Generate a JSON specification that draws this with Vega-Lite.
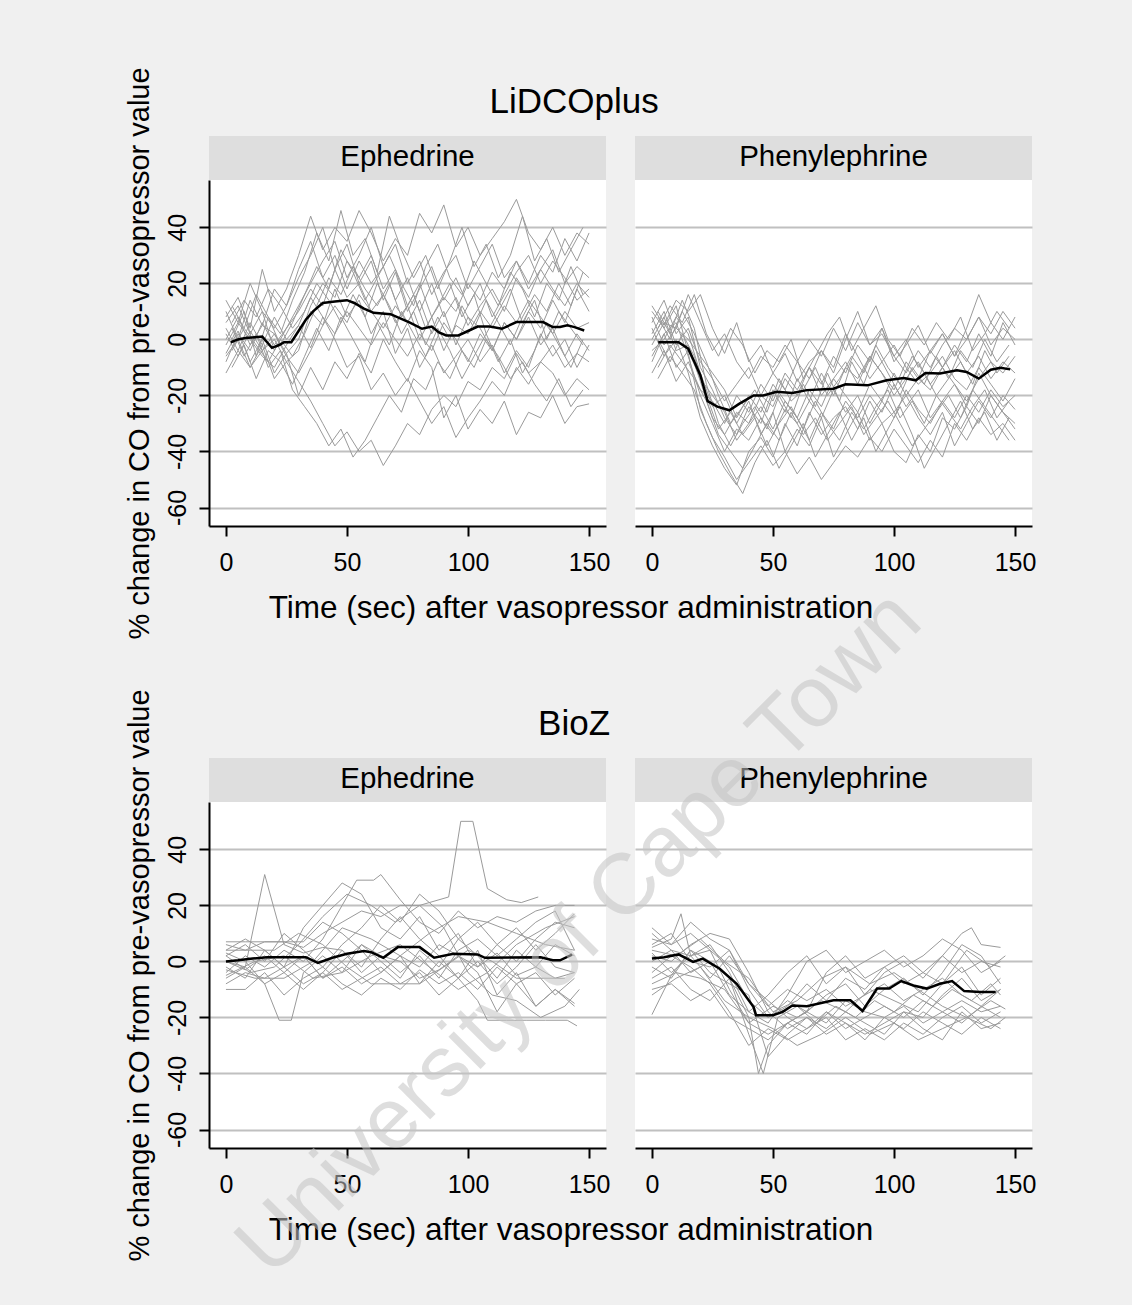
{
"$schema":"https://vega.github.io/schema/vega-lite/v6.json",
"padding":{"left":124,"top":66,"right":96,"bottom":45},
"background":"#f0f0f0",
"config":{"font":"Liberation Sans","view":{"fill":"white","stroke":null},
"axis":{"labelFont":"Liberation Sans","titleFont":"Liberation Sans","labelColor":"black","titleColor":"black","titleFontWeight":"normal","domainColor":"black","tickColor":"black","domainWidth":2,"tickWidth":2,"tickSize":10,"labelFontSize":25,"gridColor":"#c0c0c0","gridWidth":1.8,"labelFlush":false,"labelOverlap":false}},
"bounds":"flush",
"spacing":622,
"vconcat":[
{"bounds":"flush","spacing":29,"hconcat":[
{"width":397,"height":346,"layer":[
{"data":{"values":[{}]},"mark":{"type":"rect","color":"#dedede"},"encoding":{"x":{"datum":-7,"type":"quantitative"},"x2":{"datum":157},"y":{"datum":56.9,"type":"quantitative"},"y2":{"datum":72.6}}},
{"data":{"values":[{}]},"mark":{"type":"text","text":"Ephedrine","fontSize":29.5,"baseline":"middle","align":"center","color":"black"},"encoding":{"x":{"datum":75,"type":"quantitative"},"y":{"datum":65,"type":"quantitative"}}},
{"data":{"values":[{}]},"mark":{"type":"text","text":"LiDCOplus","fontSize":35,"baseline":"middle","align":"center","color":"black"},"encoding":{"x":{"datum":143.8,"type":"quantitative"},"y":{"datum":84.7,"type":"quantitative"}}},
{"data":{"name":"le"},"mark":{"type":"line","color":"#9a9a9a","strokeWidth":1},"encoding":{
"x":{"field":"t","type":"quantitative","scale":{"domain":[-7,157],"nice":false,"zero":false},"axis":{"values":[0,50,100,150],"grid":false,"labelPadding":14,"title":"Time (sec) after vasopressor administration","titleX":361.5,"titleFontSize":31.5,"titlePadding":17}},
"y":{"field":"v","type":"quantitative","scale":{"domain":[-66.6,56.9],"nice":false,"zero":false},"axis":{"values":[-60,-40,-20,0,20,40],"grid":true,"labelAngle":270,"labelAlign":"center","labelBaseline":"bottom","labelPadding":9,"labelExpr":"datum.value < 0 ? '-' + abs(datum.value) : '' + datum.value","title":"% change in CO from pre-vasopressor value","titleFontSize":29,"titlePadding":11}},
"detail":{"field":"p"}}},
{"data":{"name":"lem"},"mark":{"type":"line","color":"black","strokeWidth":2.5},"encoding":{"x":{"field":"t","type":"quantitative"},"y":{"field":"v","type":"quantitative"}}}
]},
{"width":397,"height":346,"layer":[
{"data":{"values":[{}]},"mark":{"type":"rect","color":"#dedede"},"encoding":{"x":{"datum":-7,"type":"quantitative"},"x2":{"datum":157},"y":{"datum":56.9,"type":"quantitative"},"y2":{"datum":72.6}}},
{"data":{"values":[{}]},"mark":{"type":"text","text":"Phenylephrine","fontSize":29.5,"baseline":"middle","align":"center","color":"black"},"encoding":{"x":{"datum":75,"type":"quantitative"},"y":{"datum":65,"type":"quantitative"}}},
{"data":{"name":"lp"},"mark":{"type":"line","color":"#9a9a9a","strokeWidth":1},"encoding":{
"x":{"field":"t","type":"quantitative","scale":{"domain":[-7,157],"nice":false,"zero":false},"axis":{"values":[0,50,100,150],"grid":false,"labelPadding":14,"title":null}},
"y":{"field":"v","type":"quantitative","scale":{"domain":[-66.6,56.9],"nice":false,"zero":false},"axis":{"values":[-60,-40,-20,0,20,40],"grid":true,"domain":false,"ticks":false,"labels":false,"title":null}},
"detail":{"field":"p"}}},
{"data":{"name":"lpm"},"mark":{"type":"line","color":"black","strokeWidth":2.5},"encoding":{"x":{"field":"t","type":"quantitative"},"y":{"field":"v","type":"quantitative"}}}
]}
]},
{"bounds":"flush","spacing":29,"hconcat":[
{"width":397,"height":346,"layer":[
{"data":{"values":[{}]},"mark":{"type":"rect","color":"#dedede"},"encoding":{"x":{"datum":-7,"type":"quantitative"},"x2":{"datum":157},"y":{"datum":56.9,"type":"quantitative"},"y2":{"datum":72.6}}},
{"data":{"values":[{}]},"mark":{"type":"text","text":"Ephedrine","fontSize":29.5,"baseline":"middle","align":"center","color":"black"},"encoding":{"x":{"datum":75,"type":"quantitative"},"y":{"datum":65,"type":"quantitative"}}},
{"data":{"values":[{}]},"mark":{"type":"text","text":"BioZ","fontSize":35,"baseline":"middle","align":"center","color":"black"},"encoding":{"x":{"datum":143.8,"type":"quantitative"},"y":{"datum":84.7,"type":"quantitative"}}},
{"data":{"name":"be"},"mark":{"type":"line","color":"#9a9a9a","strokeWidth":1},"encoding":{
"x":{"field":"t","type":"quantitative","scale":{"domain":[-7,157],"nice":false,"zero":false},"axis":{"values":[0,50,100,150],"grid":false,"labelPadding":14,"title":"Time (sec) after vasopressor administration","titleX":361.5,"titleFontSize":31.5,"titlePadding":17}},
"y":{"field":"v","type":"quantitative","scale":{"domain":[-66.6,56.9],"nice":false,"zero":false},"axis":{"values":[-60,-40,-20,0,20,40],"grid":true,"labelAngle":270,"labelAlign":"center","labelBaseline":"bottom","labelPadding":9,"labelExpr":"datum.value < 0 ? '-' + abs(datum.value) : '' + datum.value","title":"% change in CO from pre-vasopressor value","titleFontSize":29,"titlePadding":11}},
"detail":{"field":"p"}}},
{"data":{"name":"bem"},"mark":{"type":"line","color":"black","strokeWidth":2.5},"encoding":{"x":{"field":"t","type":"quantitative"},"y":{"field":"v","type":"quantitative"}}}
]},
{"width":397,"height":346,"layer":[
{"data":{"values":[{}]},"mark":{"type":"rect","color":"#dedede"},"encoding":{"x":{"datum":-7,"type":"quantitative"},"x2":{"datum":157},"y":{"datum":56.9,"type":"quantitative"},"y2":{"datum":72.6}}},
{"data":{"values":[{}]},"mark":{"type":"text","text":"Phenylephrine","fontSize":29.5,"baseline":"middle","align":"center","color":"black"},"encoding":{"x":{"datum":75,"type":"quantitative"},"y":{"datum":65,"type":"quantitative"}}},
{"data":{"name":"bp"},"mark":{"type":"line","color":"#9a9a9a","strokeWidth":1},"encoding":{
"x":{"field":"t","type":"quantitative","scale":{"domain":[-7,157],"nice":false,"zero":false},"axis":{"values":[0,50,100,150],"grid":false,"labelPadding":14,"title":null}},
"y":{"field":"v","type":"quantitative","scale":{"domain":[-66.6,56.9],"nice":false,"zero":false},"axis":{"values":[-60,-40,-20,0,20,40],"grid":true,"domain":false,"ticks":false,"labels":false,"title":null}},
"detail":{"field":"p"}}},
{"data":{"name":"bpm"},"mark":{"type":"line","color":"black","strokeWidth":2.5},"encoding":{"x":{"field":"t","type":"quantitative"},"y":{"field":"v","type":"quantitative"}}},
{"data":{"values":[{}]},"mark":{"type":"text","text":"University of Cape Town","fontSize":86,"angle":-45,"baseline":"middle","align":"center","color":"#c4c4c4","opacity":0.55},"encoding":{"x":{"datum":-30,"type":"quantitative"},"y":{"datum":10,"type":"quantitative"}}}
]}
]}
],
"datasets":{
"le":[
{"p":1,"t":0,"v":8},{"p":1,"t":5,"v":15},{"p":1,"t":10,"v":4},{"p":1,"t":15,"v":25},{"p":1,"t":20,"v":10},{"p":1,"t":25,"v":18},{"p":1,"t":30,"v":30},{"p":1,"t":35,"v":44},{"p":1,"t":40,"v":32},{"p":1,"t":45,"v":40},{"p":1,"t":50,"v":35},{"p":1,"t":55,"v":46},{"p":1,"t":60,"v":38},{"p":1,"t":65,"v":28},{"p":1,"t":70,"v":36},{"p":1,"t":75,"v":30},{"p":1,"t":80,"v":45},{"p":1,"t":85,"v":38},{"p":1,"t":90,"v":48},{"p":1,"t":95,"v":33},{"p":1,"t":100,"v":40},{"p":1,"t":105,"v":30},{"p":1,"t":110,"v":36},{"p":1,"t":115,"v":42},{"p":1,"t":120,"v":50},{"p":1,"t":125,"v":38},{"p":1,"t":130,"v":32},{"p":1,"t":135,"v":40},{"p":1,"t":140,"v":30},{"p":1,"t":145,"v":38},{"p":1,"t":150,"v":34},
{"p":2,"t":0,"v":2},{"p":2,"t":5,"v":-6},{"p":2,"t":10,"v":3},{"p":2,"t":15,"v":-4},{"p":2,"t":20,"v":0},{"p":2,"t":25,"v":-8},{"p":2,"t":30,"v":-15},{"p":2,"t":35,"v":-22},{"p":2,"t":40,"v":-30},{"p":2,"t":45,"v":-38},{"p":2,"t":50,"v":-33},{"p":2,"t":55,"v":-40},{"p":2,"t":60,"v":-36},{"p":2,"t":65,"v":-45},{"p":2,"t":70,"v":-38},{"p":2,"t":75,"v":-30},{"p":2,"t":80,"v":-34},{"p":2,"t":85,"v":-25},{"p":2,"t":90,"v":-20},{"p":2,"t":95,"v":-24},{"p":2,"t":100,"v":-15},{"p":2,"t":105,"v":-18},{"p":2,"t":110,"v":-10},{"p":2,"t":115,"v":-14},{"p":2,"t":120,"v":-5},{"p":2,"t":125,"v":-12},{"p":2,"t":130,"v":-8},{"p":2,"t":135,"v":-2},{"p":2,"t":140,"v":-10},{"p":2,"t":145,"v":-5},{"p":2,"t":150,"v":-8},
{"p":3,"t":0,"v":-5},{"p":3,"t":5,"v":3},{"p":3,"t":10,"v":-8},{"p":3,"t":15,"v":0},{"p":3,"t":20,"v":-12},{"p":3,"t":25,"v":-5},{"p":3,"t":30,"v":-20},{"p":3,"t":35,"v":-10},{"p":3,"t":40,"v":-18},{"p":3,"t":45,"v":-8},{"p":3,"t":50,"v":-14},{"p":3,"t":55,"v":-5},{"p":3,"t":60,"v":-12},{"p":3,"t":65,"v":0},{"p":3,"t":70,"v":-8},{"p":3,"t":75,"v":-15},{"p":3,"t":80,"v":-4},{"p":3,"t":85,"v":-10},{"p":3,"t":90,"v":-28},{"p":3,"t":95,"v":-20},{"p":3,"t":100,"v":-32},{"p":3,"t":105,"v":-25},{"p":3,"t":110,"v":-30},{"p":3,"t":115,"v":-22},{"p":3,"t":120,"v":-34},{"p":3,"t":125,"v":-26},{"p":3,"t":130,"v":-28},{"p":3,"t":135,"v":-20},{"p":3,"t":140,"v":-30},{"p":3,"t":145,"v":-24},{"p":3,"t":150,"v":-23},
{"p":4,"t":0,"v":10},{"p":4,"t":5,"v":0},{"p":4,"t":10,"v":14},{"p":4,"t":15,"v":5},{"p":4,"t":20,"v":18},{"p":4,"t":25,"v":12},{"p":4,"t":30,"v":25},{"p":4,"t":35,"v":35},{"p":4,"t":40,"v":22},{"p":4,"t":45,"v":30},{"p":4,"t":50,"v":18},{"p":4,"t":55,"v":28},{"p":4,"t":60,"v":20},{"p":4,"t":65,"v":26},{"p":4,"t":70,"v":14},{"p":4,"t":75,"v":22},{"p":4,"t":80,"v":10},{"p":4,"t":85,"v":20},{"p":4,"t":90,"v":8},{"p":4,"t":95,"v":15},{"p":4,"t":100,"v":5},{"p":4,"t":105,"v":12},{"p":4,"t":110,"v":18},{"p":4,"t":115,"v":10},{"p":4,"t":120,"v":22},{"p":4,"t":125,"v":15},{"p":4,"t":130,"v":25},{"p":4,"t":135,"v":18},{"p":4,"t":140,"v":12},{"p":4,"t":145,"v":20},{"p":4,"t":150,"v":15},
{"p":5,"t":0,"v":-8},{"p":5,"t":5,"v":2},{"p":5,"t":10,"v":-4},{"p":5,"t":15,"v":6},{"p":5,"t":20,"v":-2},{"p":5,"t":25,"v":4},{"p":5,"t":30,"v":10},{"p":5,"t":35,"v":18},{"p":5,"t":40,"v":12},{"p":5,"t":45,"v":25},{"p":5,"t":50,"v":15},{"p":5,"t":55,"v":20},{"p":5,"t":60,"v":10},{"p":5,"t":65,"v":16},{"p":5,"t":70,"v":6},{"p":5,"t":75,"v":12},{"p":5,"t":80,"v":0},{"p":5,"t":85,"v":8},{"p":5,"t":90,"v":-4},{"p":5,"t":95,"v":5},{"p":5,"t":100,"v":2},{"p":5,"t":105,"v":10},{"p":5,"t":110,"v":4},{"p":5,"t":115,"v":12},{"p":5,"t":120,"v":6},{"p":5,"t":125,"v":14},{"p":5,"t":130,"v":8},{"p":5,"t":135,"v":2},{"p":5,"t":140,"v":10},{"p":5,"t":145,"v":4},{"p":5,"t":150,"v":6},
{"p":6,"t":0,"v":0},{"p":6,"t":5,"v":8},{"p":6,"t":10,"v":-2},{"p":6,"t":15,"v":5},{"p":6,"t":20,"v":2},{"p":6,"t":25,"v":-5},{"p":6,"t":30,"v":0},{"p":6,"t":35,"v":12},{"p":6,"t":40,"v":20},{"p":6,"t":45,"v":15},{"p":6,"t":50,"v":28},{"p":6,"t":55,"v":22},{"p":6,"t":60,"v":30},{"p":6,"t":65,"v":18},{"p":6,"t":70,"v":25},{"p":6,"t":75,"v":12},{"p":6,"t":80,"v":20},{"p":6,"t":85,"v":8},{"p":6,"t":90,"v":15},{"p":6,"t":95,"v":10},{"p":6,"t":100,"v":20},{"p":6,"t":105,"v":14},{"p":6,"t":110,"v":24},{"p":6,"t":115,"v":18},{"p":6,"t":120,"v":28},{"p":6,"t":125,"v":20},{"p":6,"t":130,"v":30},{"p":6,"t":135,"v":24},{"p":6,"t":140,"v":36},{"p":6,"t":145,"v":28},{"p":6,"t":150,"v":38},
{"p":7,"t":0,"v":4},{"p":7,"t":5,"v":-4},{"p":7,"t":10,"v":6},{"p":7,"t":15,"v":-2},{"p":7,"t":20,"v":8},{"p":7,"t":25,"v":0},{"p":7,"t":30,"v":5},{"p":7,"t":35,"v":-3},{"p":7,"t":40,"v":8},{"p":7,"t":45,"v":2},{"p":7,"t":50,"v":10},{"p":7,"t":55,"v":4},{"p":7,"t":60,"v":-2},{"p":7,"t":65,"v":6},{"p":7,"t":70,"v":0},{"p":7,"t":75,"v":-6},{"p":7,"t":80,"v":2},{"p":7,"t":85,"v":-4},{"p":7,"t":90,"v":6},{"p":7,"t":95,"v":0},{"p":7,"t":100,"v":-8},{"p":7,"t":105,"v":2},{"p":7,"t":110,"v":-4},{"p":7,"t":115,"v":6},{"p":7,"t":120,"v":0},{"p":7,"t":125,"v":8},{"p":7,"t":130,"v":-2},{"p":7,"t":135,"v":4},{"p":7,"t":140,"v":-6},{"p":7,"t":145,"v":2},{"p":7,"t":150,"v":-4},
{"p":8,"t":0,"v":-12},{"p":8,"t":5,"v":-4},{"p":8,"t":10,"v":-10},{"p":8,"t":15,"v":-2},{"p":8,"t":20,"v":-14},{"p":8,"t":25,"v":-8},{"p":8,"t":30,"v":-4},{"p":8,"t":35,"v":10},{"p":8,"t":40,"v":5},{"p":8,"t":45,"v":18},{"p":8,"t":50,"v":8},{"p":8,"t":55,"v":14},{"p":8,"t":60,"v":2},{"p":8,"t":65,"v":10},{"p":8,"t":70,"v":-5},{"p":8,"t":75,"v":4},{"p":8,"t":80,"v":-10},{"p":8,"t":85,"v":-2},{"p":8,"t":90,"v":-12},{"p":8,"t":95,"v":-6},{"p":8,"t":100,"v":0},{"p":8,"t":105,"v":-8},{"p":8,"t":110,"v":-2},{"p":8,"t":115,"v":-12},{"p":8,"t":120,"v":-4},{"p":8,"t":125,"v":-10},{"p":8,"t":130,"v":2},{"p":8,"t":135,"v":-6},{"p":8,"t":140,"v":0},{"p":8,"t":145,"v":-10},{"p":8,"t":150,"v":-2},
{"p":9,"t":0,"v":14},{"p":9,"t":5,"v":6},{"p":9,"t":10,"v":20},{"p":9,"t":15,"v":10},{"p":9,"t":20,"v":4},{"p":9,"t":25,"v":12},{"p":9,"t":30,"v":22},{"p":9,"t":35,"v":30},{"p":9,"t":40,"v":40},{"p":9,"t":45,"v":25},{"p":9,"t":50,"v":34},{"p":9,"t":55,"v":20},{"p":9,"t":60,"v":28},{"p":9,"t":65,"v":14},{"p":9,"t":70,"v":24},{"p":9,"t":75,"v":10},{"p":9,"t":80,"v":18},{"p":9,"t":85,"v":26},{"p":9,"t":90,"v":14},{"p":9,"t":95,"v":22},{"p":9,"t":100,"v":12},{"p":9,"t":105,"v":20},{"p":9,"t":110,"v":8},{"p":9,"t":115,"v":16},{"p":9,"t":120,"v":24},{"p":9,"t":125,"v":30},{"p":9,"t":130,"v":20},{"p":9,"t":135,"v":28},{"p":9,"t":140,"v":22},{"p":9,"t":145,"v":14},{"p":9,"t":150,"v":18},
{"p":10,"t":0,"v":-2},{"p":10,"t":5,"v":6},{"p":10,"t":10,"v":0},{"p":10,"t":15,"v":-6},{"p":10,"t":20,"v":-10},{"p":10,"t":25,"v":-2},{"p":10,"t":30,"v":5},{"p":10,"t":35,"v":15},{"p":10,"t":40,"v":8},{"p":10,"t":45,"v":0},{"p":10,"t":50,"v":-10},{"p":10,"t":55,"v":-6},{"p":10,"t":60,"v":-18},{"p":10,"t":65,"v":-12},{"p":10,"t":70,"v":-20},{"p":10,"t":75,"v":-14},{"p":10,"t":80,"v":-22},{"p":10,"t":85,"v":-30},{"p":10,"t":90,"v":-24},{"p":10,"t":95,"v":-35},{"p":10,"t":100,"v":-28},{"p":10,"t":105,"v":-22},{"p":10,"t":110,"v":-15},{"p":10,"t":115,"v":-20},{"p":10,"t":120,"v":-10},{"p":10,"t":125,"v":-16},{"p":10,"t":130,"v":-8},{"p":10,"t":135,"v":-12},{"p":10,"t":140,"v":-20},{"p":10,"t":145,"v":-14},{"p":10,"t":150,"v":-18},
{"p":11,"t":0,"v":6},{"p":11,"t":5,"v":12},{"p":11,"t":10,"v":2},{"p":11,"t":15,"v":10},{"p":11,"t":20,"v":-4},{"p":11,"t":25,"v":4},{"p":11,"t":30,"v":12},{"p":11,"t":35,"v":20},{"p":11,"t":40,"v":28},{"p":11,"t":45,"v":35},{"p":11,"t":50,"v":22},{"p":11,"t":55,"v":30},{"p":11,"t":60,"v":40},{"p":11,"t":65,"v":26},{"p":11,"t":70,"v":34},{"p":11,"t":75,"v":20},{"p":11,"t":80,"v":28},{"p":11,"t":85,"v":16},{"p":11,"t":90,"v":24},{"p":11,"t":95,"v":30},{"p":11,"t":100,"v":18},{"p":11,"t":105,"v":26},{"p":11,"t":110,"v":34},{"p":11,"t":115,"v":22},{"p":11,"t":120,"v":28},{"p":11,"t":125,"v":18},{"p":11,"t":130,"v":25},{"p":11,"t":135,"v":32},{"p":11,"t":140,"v":20},{"p":11,"t":145,"v":26},{"p":11,"t":150,"v":22},
{"p":12,"t":0,"v":-6},{"p":12,"t":5,"v":0},{"p":12,"t":10,"v":-10},{"p":12,"t":15,"v":-4},{"p":12,"t":20,"v":2},{"p":12,"t":25,"v":-6},{"p":12,"t":30,"v":-12},{"p":12,"t":35,"v":-4},{"p":12,"t":40,"v":5},{"p":12,"t":45,"v":12},{"p":12,"t":50,"v":6},{"p":12,"t":55,"v":16},{"p":12,"t":60,"v":10},{"p":12,"t":65,"v":4},{"p":12,"t":70,"v":12},{"p":12,"t":75,"v":6},{"p":12,"t":80,"v":14},{"p":12,"t":85,"v":2},{"p":12,"t":90,"v":10},{"p":12,"t":95,"v":-2},{"p":12,"t":100,"v":8},{"p":12,"t":105,"v":4},{"p":12,"t":110,"v":-4},{"p":12,"t":115,"v":6},{"p":12,"t":120,"v":0},{"p":12,"t":125,"v":10},{"p":12,"t":130,"v":4},{"p":12,"t":135,"v":14},{"p":12,"t":140,"v":6},{"p":12,"t":145,"v":18},{"p":12,"t":150,"v":10},
{"p":13,"t":2.5,"v":0},{"p":13,"t":7.5,"v":10},{"p":13,"t":12.5,"v":-6},{"p":13,"t":17.5,"v":8},{"p":13,"t":22.5,"v":-2},{"p":13,"t":27.5,"v":6},{"p":13,"t":32.5,"v":16},{"p":13,"t":37.5,"v":26},{"p":13,"t":42.5,"v":18},{"p":13,"t":47.5,"v":32},{"p":13,"t":52.5,"v":24},{"p":13,"t":57.5,"v":14},{"p":13,"t":62.5,"v":22},{"p":13,"t":67.5,"v":30},{"p":13,"t":72.5,"v":20},{"p":13,"t":77.5,"v":12},{"p":13,"t":82.5,"v":26},{"p":13,"t":87.5,"v":34},{"p":13,"t":92.5,"v":22},{"p":13,"t":97.5,"v":16},{"p":13,"t":102.5,"v":28},{"p":13,"t":107.5,"v":20},{"p":13,"t":112.5,"v":12},{"p":13,"t":117.5,"v":24},{"p":13,"t":122.5,"v":18},{"p":13,"t":127.5,"v":8},{"p":13,"t":132.5,"v":20},{"p":13,"t":137.5,"v":14},{"p":13,"t":142.5,"v":26},{"p":13,"t":147.5,"v":16},
{"p":14,"t":2.5,"v":-10},{"p":14,"t":7.5,"v":-2},{"p":14,"t":12.5,"v":-14},{"p":14,"t":17.5,"v":-4},{"p":14,"t":22.5,"v":-8},{"p":14,"t":27.5,"v":-16},{"p":14,"t":32.5,"v":-6},{"p":14,"t":37.5,"v":4},{"p":14,"t":42.5,"v":-4},{"p":14,"t":47.5,"v":8},{"p":14,"t":52.5,"v":0},{"p":14,"t":57.5,"v":-8},{"p":14,"t":62.5,"v":6},{"p":14,"t":67.5,"v":-2},{"p":14,"t":72.5,"v":10},{"p":14,"t":77.5,"v":2},{"p":14,"t":82.5,"v":-6},{"p":14,"t":87.5,"v":4},{"p":14,"t":92.5,"v":-4},{"p":14,"t":97.5,"v":-14},{"p":14,"t":102.5,"v":-6},{"p":14,"t":107.5,"v":2},{"p":14,"t":112.5,"v":-8},{"p":14,"t":117.5,"v":0},{"p":14,"t":122.5,"v":-12},{"p":14,"t":127.5,"v":-4},{"p":14,"t":132.5,"v":6},{"p":14,"t":137.5,"v":-2},{"p":14,"t":142.5,"v":-10},{"p":14,"t":147.5,"v":0},
{"p":15,"t":2.5,"v":12},{"p":15,"t":7.5,"v":4},{"p":15,"t":12.5,"v":16},{"p":15,"t":17.5,"v":8},{"p":15,"t":22.5,"v":2},{"p":15,"t":27.5,"v":14},{"p":15,"t":32.5,"v":24},{"p":15,"t":37.5,"v":38},{"p":15,"t":42.5,"v":28},{"p":15,"t":47.5,"v":46},{"p":15,"t":52.5,"v":30},{"p":15,"t":57.5,"v":36},{"p":15,"t":62.5,"v":24},{"p":15,"t":67.5,"v":44},{"p":15,"t":72.5,"v":32},{"p":15,"t":77.5,"v":22},{"p":15,"t":82.5,"v":30},{"p":15,"t":87.5,"v":18},{"p":15,"t":92.5,"v":28},{"p":15,"t":97.5,"v":40},{"p":15,"t":102.5,"v":26},{"p":15,"t":107.5,"v":34},{"p":15,"t":112.5,"v":22},{"p":15,"t":117.5,"v":30},{"p":15,"t":122.5,"v":44},{"p":15,"t":127.5,"v":28},{"p":15,"t":132.5,"v":36},{"p":15,"t":137.5,"v":24},{"p":15,"t":142.5,"v":32},{"p":15,"t":147.5,"v":40},
{"p":16,"t":2.5,"v":4},{"p":16,"t":7.5,"v":-6},{"p":16,"t":12.5,"v":2},{"p":16,"t":17.5,"v":-10},{"p":16,"t":22.5,"v":-4},{"p":16,"t":27.5,"v":-18},{"p":16,"t":32.5,"v":-24},{"p":16,"t":37.5,"v":-30},{"p":16,"t":42.5,"v":-38},{"p":16,"t":47.5,"v":-32},{"p":16,"t":52.5,"v":-42},{"p":16,"t":57.5,"v":-36},{"p":16,"t":62.5,"v":-28},{"p":16,"t":67.5,"v":-20},{"p":16,"t":72.5,"v":-26},{"p":16,"t":77.5,"v":-14},{"p":16,"t":82.5,"v":-18},{"p":16,"t":87.5,"v":-8},{"p":16,"t":92.5,"v":-14},{"p":16,"t":97.5,"v":-4},{"p":16,"t":102.5,"v":-10},{"p":16,"t":107.5,"v":0},{"p":16,"t":112.5,"v":-6},{"p":16,"t":117.5,"v":-14},{"p":16,"t":122.5,"v":-8},{"p":16,"t":127.5,"v":-16},{"p":16,"t":132.5,"v":-22},{"p":16,"t":137.5,"v":-14},{"p":16,"t":142.5,"v":-24},{"p":16,"t":147.5,"v":-18},
{"p":17,"t":2.5,"v":6},{"p":17,"t":7.5,"v":14},{"p":17,"t":12.5,"v":8},{"p":17,"t":17.5,"v":18},{"p":17,"t":22.5,"v":12},{"p":17,"t":27.5,"v":4},{"p":17,"t":32.5,"v":10},{"p":17,"t":37.5,"v":20},{"p":17,"t":42.5,"v":14},{"p":17,"t":47.5,"v":6},{"p":17,"t":52.5,"v":16},{"p":17,"t":57.5,"v":8},{"p":17,"t":62.5,"v":20},{"p":17,"t":67.5,"v":12},{"p":17,"t":72.5,"v":2},{"p":17,"t":77.5,"v":10},{"p":17,"t":82.5,"v":-2},{"p":17,"t":87.5,"v":8},{"p":17,"t":92.5,"v":0},{"p":17,"t":97.5,"v":12},{"p":17,"t":102.5,"v":4},{"p":17,"t":107.5,"v":14},{"p":17,"t":112.5,"v":6},{"p":17,"t":117.5,"v":-2},{"p":17,"t":122.5,"v":8},{"p":17,"t":127.5,"v":16},{"p":17,"t":132.5,"v":10},{"p":17,"t":137.5,"v":20},{"p":17,"t":142.5,"v":12},{"p":17,"t":147.5,"v":24},
{"p":18,"t":2.5,"v":-4},{"p":18,"t":7.5,"v":4},{"p":18,"t":12.5,"v":-2},{"p":18,"t":17.5,"v":-8},{"p":18,"t":22.5,"v":0},{"p":18,"t":27.5,"v":-6},{"p":18,"t":32.5,"v":2},{"p":18,"t":37.5,"v":12},{"p":18,"t":42.5,"v":22},{"p":18,"t":47.5,"v":16},{"p":18,"t":52.5,"v":26},{"p":18,"t":57.5,"v":18},{"p":18,"t":62.5,"v":12},{"p":18,"t":67.5,"v":20},{"p":18,"t":72.5,"v":8},{"p":18,"t":77.5,"v":16},{"p":18,"t":82.5,"v":4},{"p":18,"t":87.5,"v":12},{"p":18,"t":92.5,"v":20},{"p":18,"t":97.5,"v":8},{"p":18,"t":102.5,"v":16},{"p":18,"t":107.5,"v":2},{"p":18,"t":112.5,"v":10},{"p":18,"t":117.5,"v":18},{"p":18,"t":122.5,"v":6},{"p":18,"t":127.5,"v":14},{"p":18,"t":132.5,"v":0},{"p":18,"t":137.5,"v":10},{"p":18,"t":142.5,"v":4},{"p":18,"t":147.5,"v":-2}
],
"lem":[{"t":2,"v":-1},{"t":5,"v":0},{"t":8,"v":0.5},{"t":12,"v":0.8},{"t":15,"v":1},{"t":17,"v":-1},{"t":19,"v":-3},{"t":22,"v":-2},{"t":24,"v":-1},{"t":27,"v":-1},{"t":30,"v":3},{"t":33,"v":7},{"t":36,"v":10},{"t":40,"v":13},{"t":45,"v":13.5},{"t":50,"v":14},{"t":53,"v":13},{"t":57,"v":11},{"t":61,"v":9.5},{"t":68,"v":9},{"t":72,"v":7.5},{"t":76,"v":6},{"t":81,"v":3.8},{"t":85,"v":4.6},{"t":88,"v":2.5},{"t":91,"v":1.4},{"t":96,"v":1.4},{"t":100,"v":3},{"t":104,"v":4.6},{"t":109,"v":4.6},{"t":114,"v":3.8},{"t":120,"v":6.2},{"t":131,"v":6.2},{"t":135,"v":4.4},{"t":138,"v":4.4},{"t":141,"v":5},{"t":144,"v":4.4},{"t":148,"v":3.2}],
"lp":[
{"p":1,"t":0,"v":10},{"p":1,"t":5,"v":4},{"p":1,"t":10,"v":12},{"p":1,"t":15,"v":-5},{"p":1,"t":20,"v":-25},{"p":1,"t":25,"v":-35},{"p":1,"t":30,"v":-42},{"p":1,"t":35,"v":-50},{"p":1,"t":40,"v":-44},{"p":1,"t":45,"v":-38},{"p":1,"t":50,"v":-45},{"p":1,"t":55,"v":-40},{"p":1,"t":60,"v":-48},{"p":1,"t":65,"v":-42},{"p":1,"t":70,"v":-50},{"p":1,"t":75,"v":-44},{"p":1,"t":80,"v":-38},{"p":1,"t":85,"v":-42},{"p":1,"t":90,"v":-35},{"p":1,"t":95,"v":-40},{"p":1,"t":100,"v":-32},{"p":1,"t":105,"v":-38},{"p":1,"t":110,"v":-44},{"p":1,"t":115,"v":-36},{"p":1,"t":120,"v":-42},{"p":1,"t":125,"v":-30},{"p":1,"t":130,"v":-36},{"p":1,"t":135,"v":-28},{"p":1,"t":140,"v":-34},{"p":1,"t":145,"v":-30},{"p":1,"t":150,"v":-36},
{"p":2,"t":0,"v":0},{"p":2,"t":5,"v":8},{"p":2,"t":10,"v":-4},{"p":2,"t":15,"v":-2},{"p":2,"t":20,"v":-15},{"p":2,"t":25,"v":-28},{"p":2,"t":30,"v":-34},{"p":2,"t":35,"v":-26},{"p":2,"t":40,"v":-30},{"p":2,"t":45,"v":-20},{"p":2,"t":50,"v":-24},{"p":2,"t":55,"v":-14},{"p":2,"t":60,"v":-20},{"p":2,"t":65,"v":-10},{"p":2,"t":70,"v":-16},{"p":2,"t":75,"v":-6},{"p":2,"t":80,"v":-12},{"p":2,"t":85,"v":-2},{"p":2,"t":90,"v":-8},{"p":2,"t":95,"v":4},{"p":2,"t":100,"v":-6},{"p":2,"t":105,"v":0},{"p":2,"t":110,"v":-10},{"p":2,"t":115,"v":-4},{"p":2,"t":120,"v":2},{"p":2,"t":125,"v":-6},{"p":2,"t":130,"v":0},{"p":2,"t":135,"v":8},{"p":2,"t":140,"v":-2},{"p":2,"t":145,"v":4},{"p":2,"t":150,"v":0},
{"p":3,"t":0,"v":-8},{"p":3,"t":5,"v":2},{"p":3,"t":10,"v":6},{"p":3,"t":15,"v":-6},{"p":3,"t":20,"v":-20},{"p":3,"t":25,"v":-30},{"p":3,"t":30,"v":-40},{"p":3,"t":35,"v":-32},{"p":3,"t":40,"v":-36},{"p":3,"t":45,"v":-28},{"p":3,"t":50,"v":-34},{"p":3,"t":55,"v":-25},{"p":3,"t":60,"v":-30},{"p":3,"t":65,"v":-22},{"p":3,"t":70,"v":-28},{"p":3,"t":75,"v":-18},{"p":3,"t":80,"v":-26},{"p":3,"t":85,"v":-20},{"p":3,"t":90,"v":-30},{"p":3,"t":95,"v":-22},{"p":3,"t":100,"v":-28},{"p":3,"t":105,"v":-18},{"p":3,"t":110,"v":-25},{"p":3,"t":115,"v":-30},{"p":3,"t":120,"v":-22},{"p":3,"t":125,"v":-28},{"p":3,"t":130,"v":-20},{"p":3,"t":135,"v":-26},{"p":3,"t":140,"v":-18},{"p":3,"t":145,"v":-24},{"p":3,"t":150,"v":-20},
{"p":4,"t":0,"v":12},{"p":4,"t":5,"v":5},{"p":4,"t":10,"v":14},{"p":4,"t":15,"v":10},{"p":4,"t":20,"v":16},{"p":4,"t":25,"v":4},{"p":4,"t":30,"v":-5},{"p":4,"t":35,"v":6},{"p":4,"t":40,"v":-8},{"p":4,"t":45,"v":-2},{"p":4,"t":50,"v":-12},{"p":4,"t":55,"v":-5},{"p":4,"t":60,"v":-15},{"p":4,"t":65,"v":-8},{"p":4,"t":70,"v":-4},{"p":4,"t":75,"v":-12},{"p":4,"t":80,"v":0},{"p":4,"t":85,"v":10},{"p":4,"t":90,"v":-2},{"p":4,"t":95,"v":4},{"p":4,"t":100,"v":-8},{"p":4,"t":105,"v":-2},{"p":4,"t":110,"v":5},{"p":4,"t":115,"v":-5},{"p":4,"t":120,"v":2},{"p":4,"t":125,"v":-6},{"p":4,"t":130,"v":4},{"p":4,"t":135,"v":16},{"p":4,"t":140,"v":6},{"p":4,"t":145,"v":0},{"p":4,"t":150,"v":8},
{"p":5,"t":0,"v":4},{"p":5,"t":5,"v":-6},{"p":5,"t":10,"v":0},{"p":5,"t":15,"v":-12},{"p":5,"t":20,"v":-28},{"p":5,"t":25,"v":-38},{"p":5,"t":30,"v":-46},{"p":5,"t":35,"v":-52},{"p":5,"t":40,"v":-40},{"p":5,"t":45,"v":-35},{"p":5,"t":50,"v":-42},{"p":5,"t":55,"v":-30},{"p":5,"t":60,"v":-38},{"p":5,"t":65,"v":-26},{"p":5,"t":70,"v":-34},{"p":5,"t":75,"v":-28},{"p":5,"t":80,"v":-24},{"p":5,"t":85,"v":-32},{"p":5,"t":90,"v":-22},{"p":5,"t":95,"v":-30},{"p":5,"t":100,"v":-26},{"p":5,"t":105,"v":-20},{"p":5,"t":110,"v":-28},{"p":5,"t":115,"v":-34},{"p":5,"t":120,"v":-26},{"p":5,"t":125,"v":-38},{"p":5,"t":130,"v":-30},{"p":5,"t":135,"v":-22},{"p":5,"t":140,"v":-28},{"p":5,"t":145,"v":-20},{"p":5,"t":150,"v":-25},
{"p":6,"t":0,"v":-12},{"p":6,"t":5,"v":-4},{"p":6,"t":10,"v":-15},{"p":6,"t":15,"v":-8},{"p":6,"t":20,"v":-18},{"p":6,"t":25,"v":-22},{"p":6,"t":30,"v":-30},{"p":6,"t":35,"v":-20},{"p":6,"t":40,"v":-26},{"p":6,"t":45,"v":-16},{"p":6,"t":50,"v":-22},{"p":6,"t":55,"v":-12},{"p":6,"t":60,"v":-18},{"p":6,"t":65,"v":-10},{"p":6,"t":70,"v":-20},{"p":6,"t":75,"v":-14},{"p":6,"t":80,"v":-8},{"p":6,"t":85,"v":-16},{"p":6,"t":90,"v":-6},{"p":6,"t":95,"v":-12},{"p":6,"t":100,"v":-20},{"p":6,"t":105,"v":-14},{"p":6,"t":110,"v":-8},{"p":6,"t":115,"v":-16},{"p":6,"t":120,"v":-10},{"p":6,"t":125,"v":-4},{"p":6,"t":130,"v":-12},{"p":6,"t":135,"v":-6},{"p":6,"t":140,"v":-14},{"p":6,"t":145,"v":-8},{"p":6,"t":150,"v":-12},
{"p":7,"t":0,"v":6},{"p":7,"t":5,"v":14},{"p":7,"t":10,"v":2},{"p":7,"t":15,"v":8},{"p":7,"t":20,"v":-10},{"p":7,"t":25,"v":-18},{"p":7,"t":30,"v":-28},{"p":7,"t":35,"v":-34},{"p":7,"t":40,"v":-24},{"p":7,"t":45,"v":-30},{"p":7,"t":50,"v":-18},{"p":7,"t":55,"v":-26},{"p":7,"t":60,"v":-14},{"p":7,"t":65,"v":-22},{"p":7,"t":70,"v":-12},{"p":7,"t":75,"v":-20},{"p":7,"t":80,"v":-10},{"p":7,"t":85,"v":-14},{"p":7,"t":90,"v":-6},{"p":7,"t":95,"v":-12},{"p":7,"t":100,"v":-18},{"p":7,"t":105,"v":-8},{"p":7,"t":110,"v":-14},{"p":7,"t":115,"v":-4},{"p":7,"t":120,"v":-10},{"p":7,"t":125,"v":-2},{"p":7,"t":130,"v":-8},{"p":7,"t":135,"v":2},{"p":7,"t":140,"v":-6},{"p":7,"t":145,"v":6},{"p":7,"t":150,"v":-2},
{"p":8,"t":0,"v":-4},{"p":8,"t":5,"v":0},{"p":8,"t":10,"v":8},{"p":8,"t":15,"v":2},{"p":8,"t":20,"v":-12},{"p":8,"t":25,"v":-24},{"p":8,"t":30,"v":-20},{"p":8,"t":35,"v":-30},{"p":8,"t":40,"v":-22},{"p":8,"t":45,"v":-34},{"p":8,"t":50,"v":-26},{"p":8,"t":55,"v":-40},{"p":8,"t":60,"v":-32},{"p":8,"t":65,"v":-38},{"p":8,"t":70,"v":-28},{"p":8,"t":75,"v":-42},{"p":8,"t":80,"v":-34},{"p":8,"t":85,"v":-26},{"p":8,"t":90,"v":-36},{"p":8,"t":95,"v":-30},{"p":8,"t":100,"v":-40},{"p":8,"t":105,"v":-44},{"p":8,"t":110,"v":-34},{"p":8,"t":115,"v":-40},{"p":8,"t":120,"v":-28},{"p":8,"t":125,"v":-32},{"p":8,"t":130,"v":-24},{"p":8,"t":135,"v":-30},{"p":8,"t":140,"v":-20},{"p":8,"t":145,"v":-26},{"p":8,"t":150,"v":-32},
{"p":9,"t":0,"v":2},{"p":9,"t":5,"v":10},{"p":9,"t":10,"v":-2},{"p":9,"t":15,"v":4},{"p":9,"t":20,"v":-8},{"p":9,"t":25,"v":-14},{"p":9,"t":30,"v":-22},{"p":9,"t":35,"v":-16},{"p":9,"t":40,"v":-10},{"p":9,"t":45,"v":-20},{"p":9,"t":50,"v":-12},{"p":9,"t":55,"v":-18},{"p":9,"t":60,"v":-8},{"p":9,"t":65,"v":-14},{"p":9,"t":70,"v":-4},{"p":9,"t":75,"v":-10},{"p":9,"t":80,"v":2},{"p":9,"t":85,"v":-6},{"p":9,"t":90,"v":-14},{"p":9,"t":95,"v":-8},{"p":9,"t":100,"v":-2},{"p":9,"t":105,"v":-10},{"p":9,"t":110,"v":-16},{"p":9,"t":115,"v":-12},{"p":9,"t":120,"v":-6},{"p":9,"t":125,"v":-14},{"p":9,"t":130,"v":-18},{"p":9,"t":135,"v":-10},{"p":9,"t":140,"v":-16},{"p":9,"t":145,"v":-22},{"p":9,"t":150,"v":-14},
{"p":10,"t":0,"v":-2},{"p":10,"t":5,"v":6},{"p":10,"t":10,"v":4},{"p":10,"t":15,"v":0},{"p":10,"t":20,"v":-6},{"p":10,"t":25,"v":-12},{"p":10,"t":30,"v":-18},{"p":10,"t":35,"v":-28},{"p":10,"t":40,"v":-20},{"p":10,"t":45,"v":-26},{"p":10,"t":50,"v":-16},{"p":10,"t":55,"v":-22},{"p":10,"t":60,"v":-28},{"p":10,"t":65,"v":-18},{"p":10,"t":70,"v":-24},{"p":10,"t":75,"v":-14},{"p":10,"t":80,"v":-20},{"p":10,"t":85,"v":-26},{"p":10,"t":90,"v":-16},{"p":10,"t":95,"v":-22},{"p":10,"t":100,"v":-12},{"p":10,"t":105,"v":-20},{"p":10,"t":110,"v":-14},{"p":10,"t":115,"v":-18},{"p":10,"t":120,"v":-10},{"p":10,"t":125,"v":-16},{"p":10,"t":130,"v":-22},{"p":10,"t":135,"v":-14},{"p":10,"t":140,"v":-8},{"p":10,"t":145,"v":-12},{"p":10,"t":150,"v":-6},
{"p":11,"t":0,"v":8},{"p":11,"t":5,"v":-2},{"p":11,"t":10,"v":4},{"p":11,"t":15,"v":16},{"p":11,"t":20,"v":6},{"p":11,"t":25,"v":-4},{"p":11,"t":30,"v":2},{"p":11,"t":35,"v":-8},{"p":11,"t":40,"v":-14},{"p":11,"t":45,"v":-6},{"p":11,"t":50,"v":-10},{"p":11,"t":55,"v":-2},{"p":11,"t":60,"v":-8},{"p":11,"t":65,"v":0},{"p":11,"t":70,"v":-6},{"p":11,"t":75,"v":4},{"p":11,"t":80,"v":-4},{"p":11,"t":85,"v":6},{"p":11,"t":90,"v":-2},{"p":11,"t":95,"v":2},{"p":11,"t":100,"v":-6},{"p":11,"t":105,"v":-12},{"p":11,"t":110,"v":-4},{"p":11,"t":115,"v":-10},{"p":11,"t":120,"v":-2},{"p":11,"t":125,"v":4},{"p":11,"t":130,"v":0},{"p":11,"t":135,"v":8},{"p":11,"t":140,"v":2},{"p":11,"t":145,"v":10},{"p":11,"t":150,"v":4},
{"p":12,"t":0,"v":-6},{"p":12,"t":5,"v":2},{"p":12,"t":10,"v":-10},{"p":12,"t":15,"v":-4},{"p":12,"t":20,"v":-14},{"p":12,"t":25,"v":-20},{"p":12,"t":30,"v":-26},{"p":12,"t":35,"v":-36},{"p":12,"t":40,"v":-30},{"p":12,"t":45,"v":-24},{"p":12,"t":50,"v":-32},{"p":12,"t":55,"v":-22},{"p":12,"t":60,"v":-28},{"p":12,"t":65,"v":-36},{"p":12,"t":70,"v":-26},{"p":12,"t":75,"v":-32},{"p":12,"t":80,"v":-22},{"p":12,"t":85,"v":-28},{"p":12,"t":90,"v":-20},{"p":12,"t":95,"v":-26},{"p":12,"t":100,"v":-16},{"p":12,"t":105,"v":-24},{"p":12,"t":110,"v":-18},{"p":12,"t":115,"v":-28},{"p":12,"t":120,"v":-22},{"p":12,"t":125,"v":-16},{"p":12,"t":130,"v":-24},{"p":12,"t":135,"v":-12},{"p":12,"t":140,"v":-20},{"p":12,"t":145,"v":-26},{"p":12,"t":150,"v":-30},
{"p":13,"t":2.5,"v":10},{"p":13,"t":7.5,"v":2},{"p":13,"t":12.5,"v":14},{"p":13,"t":17.5,"v":4},{"p":13,"t":22.5,"v":-16},{"p":13,"t":27.5,"v":-30},{"p":13,"t":32.5,"v":-38},{"p":13,"t":37.5,"v":-30},{"p":13,"t":42.5,"v":-24},{"p":13,"t":47.5,"v":-32},{"p":13,"t":52.5,"v":-20},{"p":13,"t":57.5,"v":-28},{"p":13,"t":62.5,"v":-16},{"p":13,"t":67.5,"v":-24},{"p":13,"t":72.5,"v":-12},{"p":13,"t":77.5,"v":-22},{"p":13,"t":82.5,"v":-8},{"p":13,"t":87.5,"v":-16},{"p":13,"t":92.5,"v":-4},{"p":13,"t":97.5,"v":-12},{"p":13,"t":102.5,"v":-20},{"p":13,"t":107.5,"v":-10},{"p":13,"t":112.5,"v":-16},{"p":13,"t":117.5,"v":-6},{"p":13,"t":122.5,"v":-14},{"p":13,"t":127.5,"v":-4},{"p":13,"t":132.5,"v":-10},{"p":13,"t":137.5,"v":0},{"p":13,"t":142.5,"v":-8},{"p":13,"t":147.5,"v":-2},
{"p":14,"t":2.5,"v":-14},{"p":14,"t":7.5,"v":-6},{"p":14,"t":12.5,"v":-12},{"p":14,"t":17.5,"v":-18},{"p":14,"t":22.5,"v":-30},{"p":14,"t":27.5,"v":-40},{"p":14,"t":32.5,"v":-48},{"p":14,"t":37.5,"v":-55},{"p":14,"t":42.5,"v":-44},{"p":14,"t":47.5,"v":-36},{"p":14,"t":52.5,"v":-46},{"p":14,"t":57.5,"v":-38},{"p":14,"t":62.5,"v":-30},{"p":14,"t":67.5,"v":-42},{"p":14,"t":72.5,"v":-34},{"p":14,"t":77.5,"v":-26},{"p":14,"t":82.5,"v":-36},{"p":14,"t":87.5,"v":-28},{"p":14,"t":92.5,"v":-40},{"p":14,"t":97.5,"v":-32},{"p":14,"t":102.5,"v":-24},{"p":14,"t":107.5,"v":-34},{"p":14,"t":112.5,"v":-46},{"p":14,"t":117.5,"v":-38},{"p":14,"t":122.5,"v":-30},{"p":14,"t":127.5,"v":-22},{"p":14,"t":132.5,"v":-32},{"p":14,"t":137.5,"v":-26},{"p":14,"t":142.5,"v":-36},{"p":14,"t":147.5,"v":-28},
{"p":15,"t":2.5,"v":4},{"p":15,"t":7.5,"v":12},{"p":15,"t":12.5,"v":6},{"p":15,"t":17.5,"v":16},{"p":15,"t":22.5,"v":2},{"p":15,"t":27.5,"v":-6},{"p":15,"t":32.5,"v":4},{"p":15,"t":37.5,"v":-2},{"p":15,"t":42.5,"v":-12},{"p":15,"t":47.5,"v":-4},{"p":15,"t":52.5,"v":-8},{"p":15,"t":57.5,"v":0},{"p":15,"t":62.5,"v":-14},{"p":15,"t":67.5,"v":-6},{"p":15,"t":72.5,"v":2},{"p":15,"t":77.5,"v":8},{"p":15,"t":82.5,"v":-4},{"p":15,"t":87.5,"v":4},{"p":15,"t":92.5,"v":12},{"p":15,"t":97.5,"v":0},{"p":15,"t":102.5,"v":-6},{"p":15,"t":107.5,"v":4},{"p":15,"t":112.5,"v":-2},{"p":15,"t":117.5,"v":6},{"p":15,"t":122.5,"v":0},{"p":15,"t":127.5,"v":8},{"p":15,"t":132.5,"v":-4},{"p":15,"t":137.5,"v":2},{"p":15,"t":142.5,"v":10},{"p":15,"t":147.5,"v":4},
{"p":16,"t":2.5,"v":0},{"p":16,"t":7.5,"v":-8},{"p":16,"t":12.5,"v":2},{"p":16,"t":17.5,"v":-6},{"p":16,"t":22.5,"v":-20},{"p":16,"t":27.5,"v":-32},{"p":16,"t":32.5,"v":-26},{"p":16,"t":37.5,"v":-34},{"p":16,"t":42.5,"v":-28},{"p":16,"t":47.5,"v":-38},{"p":16,"t":52.5,"v":-30},{"p":16,"t":57.5,"v":-24},{"p":16,"t":62.5,"v":-32},{"p":16,"t":67.5,"v":-22},{"p":16,"t":72.5,"v":-30},{"p":16,"t":77.5,"v":-36},{"p":16,"t":82.5,"v":-26},{"p":16,"t":87.5,"v":-32},{"p":16,"t":92.5,"v":-24},{"p":16,"t":97.5,"v":-18},{"p":16,"t":102.5,"v":-28},{"p":16,"t":107.5,"v":-22},{"p":16,"t":112.5,"v":-30},{"p":16,"t":117.5,"v":-20},{"p":16,"t":122.5,"v":-26},{"p":16,"t":127.5,"v":-32},{"p":16,"t":132.5,"v":-24},{"p":16,"t":137.5,"v":-18},{"p":16,"t":142.5,"v":-28},{"p":16,"t":147.5,"v":-22},
{"p":17,"t":2.5,"v":8},{"p":17,"t":7.5,"v":0},{"p":17,"t":12.5,"v":10},{"p":17,"t":17.5,"v":2},{"p":17,"t":22.5,"v":-8},{"p":17,"t":27.5,"v":-20},{"p":17,"t":32.5,"v":-30},{"p":17,"t":37.5,"v":-24},{"p":17,"t":42.5,"v":-18},{"p":17,"t":47.5,"v":-26},{"p":17,"t":52.5,"v":-14},{"p":17,"t":57.5,"v":-22},{"p":17,"t":62.5,"v":-18},{"p":17,"t":67.5,"v":-10},{"p":17,"t":72.5,"v":-20},{"p":17,"t":77.5,"v":-14},{"p":17,"t":82.5,"v":-6},{"p":17,"t":87.5,"v":-12},{"p":17,"t":92.5,"v":-2},{"p":17,"t":97.5,"v":-10},{"p":17,"t":102.5,"v":-16},{"p":17,"t":107.5,"v":-6},{"p":17,"t":112.5,"v":-12},{"p":17,"t":117.5,"v":-20},{"p":17,"t":122.5,"v":-14},{"p":17,"t":127.5,"v":-8},{"p":17,"t":132.5,"v":-16},{"p":17,"t":137.5,"v":-4},{"p":17,"t":142.5,"v":-12},{"p":17,"t":147.5,"v":-6},
{"p":18,"t":2.5,"v":-10},{"p":18,"t":7.5,"v":-2},{"p":18,"t":12.5,"v":-8},{"p":18,"t":17.5,"v":-14},{"p":18,"t":22.5,"v":-22},{"p":18,"t":27.5,"v":-34},{"p":18,"t":32.5,"v":-40},{"p":18,"t":37.5,"v":-46},{"p":18,"t":42.5,"v":-38},{"p":18,"t":47.5,"v":-30},{"p":18,"t":52.5,"v":-36},{"p":18,"t":57.5,"v":-26},{"p":18,"t":62.5,"v":-34},{"p":18,"t":67.5,"v":-28},{"p":18,"t":72.5,"v":-36},{"p":18,"t":77.5,"v":-30},{"p":18,"t":82.5,"v":-24},{"p":18,"t":87.5,"v":-34},{"p":18,"t":92.5,"v":-28},{"p":18,"t":97.5,"v":-22},{"p":18,"t":102.5,"v":-30},{"p":18,"t":107.5,"v":-38},{"p":18,"t":112.5,"v":-32},{"p":18,"t":117.5,"v":-26},{"p":18,"t":122.5,"v":-20},{"p":18,"t":127.5,"v":-28},{"p":18,"t":132.5,"v":-18},{"p":18,"t":137.5,"v":-24},{"p":18,"t":142.5,"v":-30},{"p":18,"t":147.5,"v":-36}
],
"lpm":[{"t":2.6,"v":-1},{"t":11,"v":-1},{"t":15,"v":-3.3},{"t":17.5,"v":-8},{"t":20,"v":-12.8},{"t":23,"v":-22},{"t":27,"v":-24},{"t":32,"v":-25.3},{"t":36,"v":-23},{"t":42,"v":-20},{"t":46,"v":-20},{"t":51.5,"v":-18.7},{"t":58,"v":-19.1},{"t":64,"v":-18.1},{"t":75,"v":-17.6},{"t":80,"v":-16},{"t":89,"v":-16.4},{"t":97,"v":-14.6},{"t":104,"v":-13.8},{"t":109,"v":-14.6},{"t":113,"v":-12},{"t":119,"v":-12.2},{"t":126,"v":-11},{"t":130,"v":-11.6},{"t":135,"v":-14},{"t":140,"v":-10.8},{"t":144,"v":-10.1},{"t":148,"v":-10.7}],
"be":[
{"p":1,"t":0,"v":0},{"p":1,"t":8,"v":-2},{"p":1,"t":16,"v":31},{"p":1,"t":24,"v":6},{"p":1,"t":32,"v":3},{"p":1,"t":40,"v":5},{"p":1,"t":48,"v":4},{"p":1,"t":56,"v":-4},{"p":1,"t":64,"v":2},{"p":1,"t":72,"v":0},{"p":1,"t":80,"v":-6},{"p":1,"t":88,"v":-3},{"p":1,"t":96,"v":2},{"p":1,"t":104,"v":-2},{"p":1,"t":112,"v":3},{"p":1,"t":120,"v":-5},{"p":1,"t":128,"v":-2},{"p":1,"t":136,"v":-6},{"p":1,"t":144,"v":-4},
{"p":2,"t":0,"v":6},{"p":2,"t":8,"v":4},{"p":2,"t":16,"v":7},{"p":2,"t":24,"v":7},{"p":2,"t":32,"v":5},{"p":2,"t":40,"v":10},{"p":2,"t":48,"v":14},{"p":2,"t":56,"v":18},{"p":2,"t":64,"v":16},{"p":2,"t":72,"v":20},{"p":2,"t":80,"v":20},{"p":2,"t":88,"v":22},{"p":2,"t":92,"v":23},{"p":2,"t":97,"v":50},{"p":2,"t":102,"v":50},{"p":2,"t":108,"v":26},{"p":2,"t":116,"v":22},{"p":2,"t":122,"v":21},{"p":2,"t":129,"v":23},
{"p":3,"t":0,"v":-4},{"p":3,"t":8,"v":2},{"p":3,"t":16,"v":-2},{"p":3,"t":24,"v":4},{"p":3,"t":32,"v":0},{"p":3,"t":40,"v":8},{"p":3,"t":48,"v":20},{"p":3,"t":54,"v":29},{"p":3,"t":61,"v":29},{"p":3,"t":64,"v":31},{"p":3,"t":72,"v":22},{"p":3,"t":80,"v":14},{"p":3,"t":88,"v":10},{"p":3,"t":96,"v":18},{"p":3,"t":104,"v":12},{"p":3,"t":112,"v":16},{"p":3,"t":120,"v":14},{"p":3,"t":128,"v":18},{"p":3,"t":136,"v":20},{"p":3,"t":144,"v":20},
{"p":4,"t":0,"v":-8},{"p":4,"t":8,"v":-4},{"p":4,"t":16,"v":-6},{"p":4,"t":24,"v":-2},{"p":4,"t":32,"v":-8},{"p":4,"t":40,"v":-4},{"p":4,"t":48,"v":-10},{"p":4,"t":56,"v":-6},{"p":4,"t":64,"v":-2},{"p":4,"t":72,"v":-8},{"p":4,"t":80,"v":-4},{"p":4,"t":88,"v":-12},{"p":4,"t":96,"v":-6},{"p":4,"t":104,"v":-14},{"p":4,"t":108,"v":-21},{"p":4,"t":116,"v":-21},{"p":4,"t":124,"v":-21},{"p":4,"t":132,"v":-21},{"p":4,"t":141,"v":-21},{"p":4,"t":145,"v":-23},
{"p":5,"t":0,"v":3},{"p":5,"t":8,"v":0},{"p":5,"t":16,"v":-8},{"p":5,"t":22,"v":-21},{"p":5,"t":27,"v":-21},{"p":5,"t":32,"v":-4},{"p":5,"t":40,"v":2},{"p":5,"t":48,"v":-4},{"p":5,"t":56,"v":6},{"p":5,"t":64,"v":0},{"p":5,"t":72,"v":-6},{"p":5,"t":80,"v":4},{"p":5,"t":88,"v":-2},{"p":5,"t":96,"v":8},{"p":5,"t":104,"v":2},{"p":5,"t":112,"v":-6},{"p":5,"t":120,"v":4},{"p":5,"t":128,"v":-2},{"p":5,"t":136,"v":6},{"p":5,"t":144,"v":2},
{"p":6,"t":0,"v":7},{"p":6,"t":8,"v":7},{"p":6,"t":16,"v":7},{"p":6,"t":24,"v":7},{"p":6,"t":32,"v":7},{"p":6,"t":40,"v":14},{"p":6,"t":48,"v":10},{"p":6,"t":56,"v":4},{"p":6,"t":64,"v":-4},{"p":6,"t":72,"v":2},{"p":6,"t":80,"v":-8},{"p":6,"t":88,"v":0},{"p":6,"t":96,"v":-6},{"p":6,"t":104,"v":4},{"p":6,"t":112,"v":-12},{"p":6,"t":120,"v":-4},{"p":6,"t":128,"v":-16},{"p":6,"t":136,"v":-10},{"p":6,"t":144,"v":-16},
{"p":7,"t":0,"v":-10},{"p":7,"t":8,"v":-10},{"p":7,"t":16,"v":-4},{"p":7,"t":24,"v":-12},{"p":7,"t":32,"v":-6},{"p":7,"t":40,"v":-2},{"p":7,"t":48,"v":-8},{"p":7,"t":56,"v":-12},{"p":7,"t":64,"v":-6},{"p":7,"t":72,"v":-10},{"p":7,"t":80,"v":-3},{"p":7,"t":88,"v":-8},{"p":7,"t":96,"v":-4},{"p":7,"t":104,"v":-10},{"p":7,"t":112,"v":-2},{"p":7,"t":120,"v":-8},{"p":7,"t":128,"v":-4},{"p":7,"t":136,"v":-12},{"p":7,"t":144,"v":-6},
{"p":8,"t":0,"v":2},{"p":8,"t":8,"v":6},{"p":8,"t":16,"v":0},{"p":8,"t":24,"v":10},{"p":8,"t":32,"v":4},{"p":8,"t":40,"v":-2},{"p":8,"t":48,"v":6},{"p":8,"t":56,"v":12},{"p":8,"t":64,"v":20},{"p":8,"t":72,"v":14},{"p":8,"t":80,"v":24},{"p":8,"t":88,"v":18},{"p":8,"t":96,"v":8},{"p":8,"t":104,"v":14},{"p":8,"t":112,"v":6},{"p":8,"t":120,"v":12},{"p":8,"t":128,"v":4},{"p":8,"t":136,"v":10},{"p":8,"t":144,"v":17},
{"p":9,"t":0,"v":-2},{"p":9,"t":8,"v":-6},{"p":9,"t":16,"v":4},{"p":9,"t":24,"v":-2},{"p":9,"t":32,"v":2},{"p":9,"t":40,"v":-6},{"p":9,"t":48,"v":-2},{"p":9,"t":56,"v":-8},{"p":9,"t":64,"v":-4},{"p":9,"t":72,"v":2},{"p":9,"t":80,"v":-2},{"p":9,"t":88,"v":6},{"p":9,"t":96,"v":2},{"p":9,"t":104,"v":-4},{"p":9,"t":112,"v":-18},{"p":9,"t":120,"v":-8},{"p":9,"t":128,"v":-16},{"p":9,"t":136,"v":-10},{"p":9,"t":144,"v":-15},
{"p":10,"t":0,"v":4},{"p":10,"t":8,"v":8},{"p":10,"t":16,"v":4},{"p":10,"t":24,"v":-2},{"p":10,"t":32,"v":12},{"p":10,"t":40,"v":20},{"p":10,"t":48,"v":28},{"p":10,"t":56,"v":24},{"p":10,"t":64,"v":12},{"p":10,"t":72,"v":8},{"p":10,"t":80,"v":16},{"p":10,"t":88,"v":4},{"p":10,"t":96,"v":10},{"p":10,"t":104,"v":-2},{"p":10,"t":112,"v":6},{"p":10,"t":120,"v":0},{"p":10,"t":128,"v":8},{"p":10,"t":136,"v":14},{"p":10,"t":144,"v":12},
{"p":11,"t":0,"v":0},{"p":11,"t":8,"v":-3},{"p":11,"t":16,"v":2},{"p":11,"t":24,"v":-4},{"p":11,"t":32,"v":-10},{"p":11,"t":40,"v":-4},{"p":11,"t":48,"v":4},{"p":11,"t":56,"v":-2},{"p":11,"t":64,"v":8},{"p":11,"t":72,"v":16},{"p":11,"t":80,"v":8},{"p":11,"t":88,"v":2},{"p":11,"t":96,"v":-6},{"p":11,"t":104,"v":0},{"p":11,"t":112,"v":-8},{"p":11,"t":120,"v":-2},{"p":11,"t":128,"v":6},{"p":11,"t":136,"v":-2},{"p":11,"t":144,"v":-4},
{"p":12,"t":0,"v":-6},{"p":12,"t":8,"v":-2},{"p":12,"t":16,"v":-8},{"p":12,"t":24,"v":-4},{"p":12,"t":32,"v":2},{"p":12,"t":40,"v":-6},{"p":12,"t":48,"v":0},{"p":12,"t":56,"v":6},{"p":12,"t":64,"v":2},{"p":12,"t":72,"v":-4},{"p":12,"t":80,"v":2},{"p":12,"t":88,"v":-6},{"p":12,"t":96,"v":4},{"p":12,"t":104,"v":8},{"p":12,"t":112,"v":2},{"p":12,"t":120,"v":8},{"p":12,"t":128,"v":14},{"p":12,"t":136,"v":18},{"p":12,"t":144,"v":4},
{"p":13,"t":0,"v":4},{"p":13,"t":10,"v":4},{"p":13,"t":20,"v":4},{"p":13,"t":30,"v":10},{"p":13,"t":40,"v":6},{"p":13,"t":50,"v":-2},{"p":13,"t":60,"v":-8},{"p":13,"t":70,"v":-8},{"p":13,"t":80,"v":-8},{"p":13,"t":90,"v":-2},{"p":13,"t":100,"v":4},{"p":13,"t":110,"v":0},{"p":13,"t":120,"v":-6},{"p":13,"t":130,"v":-6},{"p":13,"t":140,"v":-6},
{"p":14,"t":0,"v":-3},{"p":14,"t":12,"v":-6},{"p":14,"t":24,"v":-6},{"p":14,"t":36,"v":0},{"p":14,"t":48,"v":12},{"p":14,"t":60,"v":8},{"p":14,"t":72,"v":2},{"p":14,"t":84,"v":10},{"p":14,"t":96,"v":16},{"p":14,"t":108,"v":14},{"p":14,"t":120,"v":10},{"p":14,"t":132,"v":6},{"p":14,"t":144,"v":4},
{"p":15,"t":0,"v":2},{"p":15,"t":10,"v":-4},{"p":15,"t":20,"v":-2},{"p":15,"t":30,"v":6},{"p":15,"t":40,"v":16},{"p":15,"t":50,"v":24},{"p":15,"t":60,"v":20},{"p":15,"t":70,"v":14},{"p":15,"t":80,"v":20},{"p":15,"t":90,"v":12},{"p":15,"t":100,"v":-4},{"p":15,"t":110,"v":-12},{"p":15,"t":120,"v":-14},{"p":15,"t":130,"v":-20},{"p":15,"t":140,"v":-16},{"p":15,"t":146,"v":-10},
{"p":16,"t":0,"v":-5},{"p":16,"t":12,"v":0},{"p":16,"t":24,"v":2},{"p":16,"t":36,"v":-6},{"p":16,"t":48,"v":-4},{"p":16,"t":60,"v":2},{"p":16,"t":72,"v":6},{"p":16,"t":84,"v":-2},{"p":16,"t":96,"v":-10},{"p":16,"t":108,"v":-4},{"p":16,"t":120,"v":6},{"p":16,"t":132,"v":12},{"p":16,"t":144,"v":16}
],
"bem":[{"t":0,"v":0},{"t":5,"v":0.4},{"t":11,"v":1},{"t":17,"v":1.5},{"t":23,"v":1.5},{"t":33,"v":1.5},{"t":38,"v":-0.5},{"t":44,"v":1.3},{"t":50,"v":2.7},{"t":57,"v":3.7},{"t":60,"v":3.3},{"t":65,"v":1.3},{"t":71,"v":5.1},{"t":80,"v":5.1},{"t":86,"v":1.3},{"t":94,"v":2.7},{"t":104,"v":2.5},{"t":107,"v":1.3},{"t":130,"v":1.5},{"t":135,"v":0.4},{"t":138,"v":0.4},{"t":143,"v":2.4}],
"bp":[
{"p":1,"t":0,"v":-19},{"p":1,"t":8,"v":-5},{"p":1,"t":16,"v":4},{"p":1,"t":24,"v":0},{"p":1,"t":32,"v":-6},{"p":1,"t":40,"v":-20},{"p":1,"t":44,"v":-40},{"p":1,"t":48,"v":-30},{"p":1,"t":56,"v":-22},{"p":1,"t":64,"v":-18},{"p":1,"t":72,"v":-22},{"p":1,"t":80,"v":-14},{"p":1,"t":88,"v":-18},{"p":1,"t":96,"v":-20},{"p":1,"t":104,"v":-16},{"p":1,"t":112,"v":-22},{"p":1,"t":120,"v":-18},{"p":1,"t":128,"v":-14},{"p":1,"t":136,"v":-18},{"p":1,"t":144,"v":-16},
{"p":2,"t":0,"v":5},{"p":2,"t":8,"v":8},{"p":2,"t":12,"v":17},{"p":2,"t":16,"v":2},{"p":2,"t":24,"v":4},{"p":2,"t":32,"v":-10},{"p":2,"t":40,"v":-22},{"p":2,"t":48,"v":-26},{"p":2,"t":56,"v":-22},{"p":2,"t":64,"v":-18},{"p":2,"t":72,"v":-4},{"p":2,"t":80,"v":2},{"p":2,"t":88,"v":-6},{"p":2,"t":96,"v":-2},{"p":2,"t":104,"v":-8},{"p":2,"t":112,"v":-4},{"p":2,"t":120,"v":2},{"p":2,"t":128,"v":10},{"p":2,"t":132,"v":12},{"p":2,"t":136,"v":6},{"p":2,"t":144,"v":5},
{"p":3,"t":0,"v":2},{"p":3,"t":8,"v":0},{"p":3,"t":16,"v":6},{"p":3,"t":24,"v":10},{"p":3,"t":32,"v":8},{"p":3,"t":40,"v":-4},{"p":3,"t":48,"v":-18},{"p":3,"t":56,"v":-24},{"p":3,"t":64,"v":-20},{"p":3,"t":72,"v":-26},{"p":3,"t":80,"v":-22},{"p":3,"t":88,"v":-28},{"p":3,"t":96,"v":-20},{"p":3,"t":104,"v":-24},{"p":3,"t":112,"v":-18},{"p":3,"t":120,"v":-22},{"p":3,"t":128,"v":-26},{"p":3,"t":136,"v":-20},{"p":3,"t":144,"v":-24},
{"p":4,"t":0,"v":0},{"p":4,"t":8,"v":4},{"p":4,"t":16,"v":-4},{"p":4,"t":24,"v":0},{"p":4,"t":32,"v":-12},{"p":4,"t":40,"v":-18},{"p":4,"t":48,"v":-12},{"p":4,"t":56,"v":-4},{"p":4,"t":64,"v":2},{"p":4,"t":72,"v":-8},{"p":4,"t":80,"v":-2},{"p":4,"t":88,"v":-12},{"p":4,"t":96,"v":-4},{"p":4,"t":104,"v":0},{"p":4,"t":112,"v":-6},{"p":4,"t":120,"v":2},{"p":4,"t":128,"v":-4},{"p":4,"t":136,"v":0},{"p":4,"t":144,"v":-2},
{"p":5,"t":0,"v":-6},{"p":5,"t":8,"v":-2},{"p":5,"t":16,"v":-10},{"p":5,"t":24,"v":-14},{"p":5,"t":32,"v":-6},{"p":5,"t":40,"v":-26},{"p":5,"t":46,"v":-40},{"p":5,"t":52,"v":-20},{"p":5,"t":60,"v":-16},{"p":5,"t":68,"v":-22},{"p":5,"t":76,"v":-16},{"p":5,"t":84,"v":-20},{"p":5,"t":92,"v":-14},{"p":5,"t":100,"v":-18},{"p":5,"t":108,"v":-12},{"p":5,"t":116,"v":-16},{"p":5,"t":124,"v":-10},{"p":5,"t":132,"v":-14},{"p":5,"t":140,"v":-8},{"p":5,"t":144,"v":-12},
{"p":6,"t":0,"v":8},{"p":6,"t":8,"v":6},{"p":6,"t":16,"v":10},{"p":6,"t":24,"v":4},{"p":6,"t":32,"v":-2},{"p":6,"t":40,"v":-14},{"p":6,"t":48,"v":-20},{"p":6,"t":56,"v":-16},{"p":6,"t":64,"v":-8},{"p":6,"t":72,"v":-14},{"p":6,"t":80,"v":-6},{"p":6,"t":88,"v":-10},{"p":6,"t":96,"v":-2},{"p":6,"t":104,"v":2},{"p":6,"t":112,"v":-4},{"p":6,"t":120,"v":-8},{"p":6,"t":128,"v":-2},{"p":6,"t":136,"v":-12},{"p":6,"t":144,"v":-6},
{"p":7,"t":0,"v":-4},{"p":7,"t":8,"v":2},{"p":7,"t":16,"v":-2},{"p":7,"t":24,"v":-8},{"p":7,"t":32,"v":-18},{"p":7,"t":40,"v":-30},{"p":7,"t":48,"v":-24},{"p":7,"t":56,"v":-28},{"p":7,"t":64,"v":-24},{"p":7,"t":72,"v":-20},{"p":7,"t":80,"v":-28},{"p":7,"t":88,"v":-24},{"p":7,"t":96,"v":-28},{"p":7,"t":104,"v":-22},{"p":7,"t":112,"v":-26},{"p":7,"t":120,"v":-20},{"p":7,"t":128,"v":-16},{"p":7,"t":136,"v":-22},{"p":7,"t":144,"v":-18},
{"p":8,"t":0,"v":3},{"p":8,"t":8,"v":-4},{"p":8,"t":16,"v":2},{"p":8,"t":24,"v":-6},{"p":8,"t":32,"v":2},{"p":8,"t":40,"v":-8},{"p":8,"t":48,"v":-16},{"p":8,"t":56,"v":-10},{"p":8,"t":64,"v":-14},{"p":8,"t":72,"v":-10},{"p":8,"t":80,"v":-16},{"p":8,"t":88,"v":-12},{"p":8,"t":96,"v":-8},{"p":8,"t":104,"v":-14},{"p":8,"t":112,"v":-10},{"p":8,"t":120,"v":-6},{"p":8,"t":128,"v":-12},{"p":8,"t":136,"v":-16},{"p":8,"t":144,"v":-10},
{"p":9,"t":0,"v":10},{"p":9,"t":8,"v":4},{"p":9,"t":16,"v":2},{"p":9,"t":24,"v":6},{"p":9,"t":32,"v":-4},{"p":9,"t":40,"v":-18},{"p":9,"t":48,"v":-22},{"p":9,"t":56,"v":-12},{"p":9,"t":64,"v":0},{"p":9,"t":72,"v":4},{"p":9,"t":80,"v":-4},{"p":9,"t":88,"v":0},{"p":9,"t":96,"v":4},{"p":9,"t":104,"v":-2},{"p":9,"t":112,"v":2},{"p":9,"t":120,"v":8},{"p":9,"t":128,"v":4},{"p":9,"t":136,"v":-4},{"p":9,"t":144,"v":0},
{"p":10,"t":0,"v":-10},{"p":10,"t":8,"v":-8},{"p":10,"t":16,"v":-14},{"p":10,"t":24,"v":-10},{"p":10,"t":32,"v":-20},{"p":10,"t":40,"v":-24},{"p":10,"t":48,"v":-28},{"p":10,"t":56,"v":-22},{"p":10,"t":64,"v":-26},{"p":10,"t":72,"v":-18},{"p":10,"t":80,"v":-24},{"p":10,"t":88,"v":-20},{"p":10,"t":96,"v":-16},{"p":10,"t":104,"v":-20},{"p":10,"t":112,"v":-14},{"p":10,"t":120,"v":-18},{"p":10,"t":128,"v":-22},{"p":10,"t":136,"v":-16},{"p":10,"t":144,"v":-20},
{"p":11,"t":0,"v":6},{"p":11,"t":8,"v":10},{"p":11,"t":16,"v":0},{"p":11,"t":24,"v":-2},{"p":11,"t":32,"v":4},{"p":11,"t":40,"v":-10},{"p":11,"t":48,"v":-20},{"p":11,"t":56,"v":-14},{"p":11,"t":64,"v":-18},{"p":11,"t":72,"v":-12},{"p":11,"t":80,"v":-8},{"p":11,"t":88,"v":-16},{"p":11,"t":96,"v":-10},{"p":11,"t":104,"v":-6},{"p":11,"t":112,"v":-12},{"p":11,"t":120,"v":-4},{"p":11,"t":128,"v":6},{"p":11,"t":136,"v":2},{"p":11,"t":144,"v":-8},
{"p":12,"t":0,"v":-2},{"p":12,"t":8,"v":-6},{"p":12,"t":16,"v":4},{"p":12,"t":24,"v":-4},{"p":12,"t":32,"v":-8},{"p":12,"t":40,"v":-12},{"p":12,"t":48,"v":-34},{"p":12,"t":56,"v":-26},{"p":12,"t":64,"v":-20},{"p":12,"t":72,"v":-24},{"p":12,"t":80,"v":-18},{"p":12,"t":88,"v":-22},{"p":12,"t":96,"v":-26},{"p":12,"t":104,"v":-18},{"p":12,"t":112,"v":-24},{"p":12,"t":120,"v":-28},{"p":12,"t":128,"v":-18},{"p":12,"t":136,"v":-24},{"p":12,"t":144,"v":-22},
{"p":13,"t":0,"v":12},{"p":13,"t":8,"v":6},{"p":13,"t":16,"v":14},{"p":13,"t":24,"v":8},{"p":13,"t":32,"v":4},{"p":13,"t":40,"v":-8},{"p":13,"t":48,"v":-14},{"p":13,"t":56,"v":-20},{"p":13,"t":64,"v":-24},{"p":13,"t":72,"v":-18},{"p":13,"t":80,"v":-22},{"p":13,"t":88,"v":-26},{"p":13,"t":96,"v":-22},{"p":13,"t":104,"v":-18},{"p":13,"t":112,"v":-20},{"p":13,"t":120,"v":-12},{"p":13,"t":128,"v":-6},{"p":13,"t":136,"v":-14},{"p":13,"t":144,"v":-10},
{"p":14,"t":0,"v":-8},{"p":14,"t":10,"v":-4},{"p":14,"t":20,"v":-6},{"p":14,"t":30,"v":-10},{"p":14,"t":40,"v":-22},{"p":14,"t":50,"v":-16},{"p":14,"t":60,"v":-20},{"p":14,"t":70,"v":-14},{"p":14,"t":80,"v":-18},{"p":14,"t":90,"v":-10},{"p":14,"t":100,"v":-14},{"p":14,"t":110,"v":-18},{"p":14,"t":120,"v":-8},{"p":14,"t":130,"v":4},{"p":14,"t":140,"v":-2},{"p":14,"t":146,"v":2},
{"p":15,"t":0,"v":4},{"p":15,"t":10,"v":2},{"p":15,"t":20,"v":8},{"p":15,"t":30,"v":0},{"p":15,"t":40,"v":-6},{"p":15,"t":50,"v":-18},{"p":15,"t":60,"v":-14},{"p":15,"t":70,"v":-6},{"p":15,"t":80,"v":-2},{"p":15,"t":90,"v":-8},{"p":15,"t":100,"v":-4},{"p":15,"t":110,"v":-10},{"p":15,"t":120,"v":-16},{"p":15,"t":130,"v":-20},{"p":15,"t":140,"v":-14},{"p":15,"t":146,"v":-17},
{"p":16,"t":0,"v":-12},{"p":16,"t":10,"v":-6},{"p":16,"t":20,"v":-2},{"p":16,"t":30,"v":-14},{"p":16,"t":40,"v":-20},{"p":16,"t":50,"v":-24},{"p":16,"t":60,"v":-30},{"p":16,"t":70,"v":-26},{"p":16,"t":80,"v":-20},{"p":16,"t":90,"v":-26},{"p":16,"t":100,"v":-22},{"p":16,"t":110,"v":-28},{"p":16,"t":120,"v":-24},{"p":16,"t":130,"v":-20},{"p":16,"t":140,"v":-24},{"p":16,"t":146,"v":-20}
],
"bpm":[{"t":0,"v":1},{"t":5,"v":1.5},{"t":11,"v":2.5},{"t":17,"v":-0.2},{"t":21,"v":1},{"t":28,"v":-2.6},{"t":35,"v":-8},{"t":42,"v":-16.3},{"t":43,"v":-19.2},{"t":50,"v":-19.2},{"t":54,"v":-18},{"t":58,"v":-15.7},{"t":64,"v":-16},{"t":75,"v":-13.9},{"t":82,"v":-13.9},{"t":87,"v":-17.7},{"t":93,"v":-9.7},{"t":98,"v":-9.7},{"t":103,"v":-7},{"t":108,"v":-8.6},{"t":113.5,"v":-9.7},{"t":119,"v":-8},{"t":124,"v":-7},{"t":129,"v":-10.6},{"t":135.5,"v":-10.9},{"t":142,"v":-10.9}]
}
}
